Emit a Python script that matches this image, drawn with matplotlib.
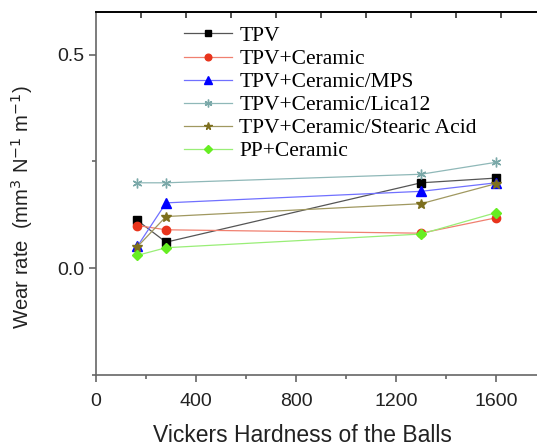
import numpy as np
import matplotlib
matplotlib.use('Agg')
import matplotlib.pyplot as plt

# data
hardness = [165, 280, 1300, 1600]
tpv = [0.112, 0.061, 0.200, 0.211]
tpv_ceramic = [0.100, 0.090, 0.082, 0.118]
tpv_mps = [0.051, 0.153, 0.180, 0.200]
tpv_lica = [0.200, 0.200, 0.220, 0.248]
tpv_stearic = [0.050, 0.121, 0.151, 0.198]
pp_ceramic = [0.030, 0.048, 0.080, 0.130]

labels = ['TPV', 'TPV+Ceramic', 'TPV+Ceramic/MPS', 'TPV+Ceramic/Lica12',
          'TPV+Ceramic/Stearic Acid', 'PP+Ceramic']
series = [tpv, tpv_ceramic, tpv_mps, tpv_lica, tpv_stearic, pp_ceramic]
line_colors = ['#555555', '#f08070', '#7070ff', '#8fb8b8', '#a09860', '#99ee77']
marker_colors = ['#000000', '#e8341c', '#0000ff', '#7aa8a8', '#7d6f1e', '#66ee22']
markers = ['s', 'o', '^', '*', '*', 'D']
msizes = [6, 6, 7, 7, 7, 5]

plt.close('all')
fig = plt.figure(figsize=(5.37, 4.46), dpi=100)
ax = fig.add_axes([0.1788, 0.1592, 0.838, 0.814])

for i in range(len(series)):
    mk = markers[i]
    if i == 3:
        mk = (6, 2, 0)  # asterisk
    ax.plot(hardness, series[i], '-', color=line_colors[i], lw=0.9,
            marker=mk, ms=msizes[i], mfc=marker_colors[i], mec=marker_colors[i],
            label=labels[i])

ax.set_xlim(0, 1800)
ax.set_ylim(-0.25, 0.6)
ax.set_xticks([0, 400, 800, 1200, 1600])
ax.set_xticks([200, 600, 1000, 1400], minor=True)
ax.set_yticks([0.0, 0.5])
ax.set_yticks([-0.25, 0.25], minor=True)
ax.set_yticklabels(['0.0', '0.5'])

ax.spines['right'].set_visible(False)
for s in ['left', 'bottom', 'top']:
    ax.spines[s].set_linewidth(1.2)
ax.spines['left'].set_color('#666666')
ax.spines['bottom'].set_color('#666666')
ax.tick_params(which='both', direction='out', colors='#666666', labelcolor='#222222',
               labelsize=14, width=1.2)
ax.tick_params(which='major', length=5)
ax.tick_params(which='minor', length=3)
ax.tick_params(axis='x', pad=8)

top = ax.twiny()
top.set_xlim(ax.get_xlim())
top.set_xticks(np.arange(180, 1800, 180))
top.set_xticklabels([])
top.tick_params(axis='x', direction='in', length=4, width=1.2, colors='#333333')
top.spines['right'].set_visible(False)
top.spines['left'].set_visible(False)
top.spines['bottom'].set_visible(False)
top.spines['top'].set_linewidth(1.2)

ax.set_xlabel('Vickers Hardness of the Balls', fontsize=16.5, color='#222222',
              family='Liberation Sans')
ax.set_ylabel('Wear rate  (mm$^3$ N$^{-1}$ m$^{-1}$)', fontsize=14.6, color='#222222',
              family='Liberation Sans')
ax.xaxis.set_label_coords(0.458, -0.136)
ax.yaxis.set_label_coords(-0.135, 0.463)
for t in ax.get_xticklabels() + ax.get_yticklabels():
    t.set_family('Liberation Sans')

leg = ax.legend(loc='upper left', bbox_to_anchor=(0.165, 1.0), frameon=False,
                prop={'family': 'Liberation Serif', 'size': 15.5}, handlelength=2.2,
                handletextpad=0.35, labelspacing=0.14, borderaxespad=0.25,
                markerscale=0.8)

fig.savefig('out.png', dpi=100)
